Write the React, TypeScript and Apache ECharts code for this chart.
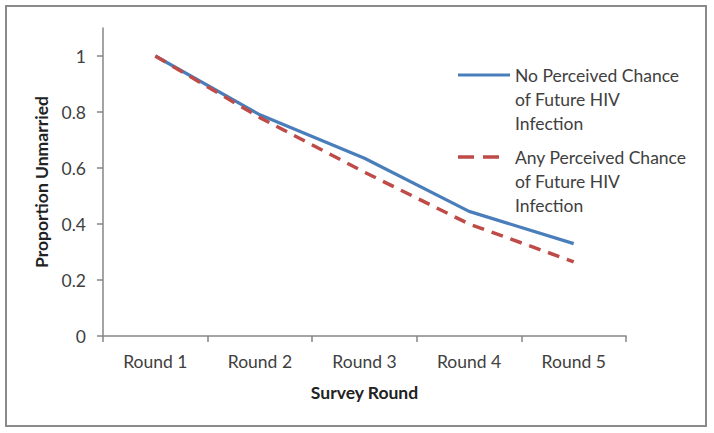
import React, { useEffect, useRef } from "react";
import * as echarts from "echarts";

const categories = ["Round 1", "Round 2", "Round 3", "Round 4", "Round 5"];
const noChance = [1.0, 0.79, 0.635, 0.445, 0.33];
const anyChance = [1.0, 0.78, 0.585, 0.4, 0.265];
const yTicks = [0, 0.2, 0.4, 0.6, 0.8, 1];
const seriesNames = [
  "No Perceived Chance of Future HIV Infection",
  "Any Perceived Chance of Future HIV Infection",
];
const legendText = [
  "No Perceived Chance\nof Future HIV\nInfection",
  "Any Perceived Chance\nof Future HIV\nInfection",
];

const BLUE = "#4A7EBB";
const RED = "#BE4B48";
const AXIS = "#868686";
const TEXT = "#404040";
const FONT = "Lato";
const FS = 17.5;

export default function App() {
  const ref = useRef<HTMLDivElement>(null);
  useEffect(() => {
    if (!ref.current) return;
    const chart = echarts.init(ref.current, null, { renderer: "svg" });
    chart.setOption({
      animation: false,
      backgroundColor: "#ffffff",
      textStyle: { fontFamily: FONT },
      grid: { left: 103, right: 88, top: 28, bottom: 97, containLabel: false },
      xAxis: {
        type: "category",
        data: categories,
        boundaryGap: true,
        name: "Survey Round",
        nameLocation: "middle",
        nameGap: 47,
        nameTextStyle: { fontFamily: FONT, fontSize: FS, fontWeight: "bold", color: "#222" },
        axisLine: { lineStyle: { color: AXIS, width: 1.5 } },
        axisTick: { show: true, length: 6, lineStyle: { color: AXIS, width: 1.5 } },
        axisLabel: { fontFamily: FONT, fontSize: FS, color: TEXT, margin: 16 },
        splitLine: { show: false },
      },
      yAxis: {
        type: "value",
        min: 0,
        max: 1.1,
        interval: 0.2,
        name: "Proportion Unmarried",
        nameLocation: "middle",
        nameGap: 51,
        nameRotate: 90,
        nameTextStyle: { fontFamily: FONT, fontSize: FS, fontWeight: "bold", color: "#222" },
        axisLine: { show: true, lineStyle: { color: AXIS, width: 1.5 } },
        axisTick: {
          show: true,
          length: 6,
          customValues: yTicks,
          lineStyle: { color: AXIS, width: 1.5 },
        },
        axisLabel: {
          fontFamily: FONT,
          fontSize: FS,
          color: TEXT,
          margin: 17,
          customValues: yTicks,
          formatter: (v: number) => String(Math.round(v * 10) / 10),
        },
        splitLine: { show: false },
      },
      series: [
        {
          name: seriesNames[0],
          type: "line",
          data: noChance,
          symbol: "none",
          lineStyle: { color: BLUE, width: 3.2 },
          itemStyle: { color: BLUE },
          z: 2,
        },
        {
          name: seriesNames[1],
          type: "line",
          data: anyChance,
          symbol: "none",
          lineStyle: { color: RED, width: 3.5, type: [12, 8] },
          itemStyle: { color: RED },
          z: 3,
        },
      ],
      graphic: [
        {
          type: "rect",
          shape: { x: 6, y: 6, width: 700, height: 420 },
          style: { fill: "none", stroke: "#8a8a8a", lineWidth: 2 },
          silent: true,
        },
        {
          type: "line",
          shape: { x1: 458, y1: 75, x2: 510, y2: 75 },
          style: { stroke: BLUE, lineWidth: 3.2 },
        },
        {
          type: "text",
          x: 515,
          y: 63,
          style: {
            text: legendText[0],
            font: `${FS}px ${FONT}`,
            fill: TEXT,
            lineHeight: 24,
            verticalAlign: "top",
          },
        },
        {
          type: "line",
          shape: { x1: 458, y1: 157, x2: 499, y2: 157 },
          style: { stroke: RED, lineWidth: 3.5, lineDash: [16, 9] },
        },
        {
          type: "text",
          x: 515,
          y: 145,
          style: {
            text: legendText[1],
            font: `${FS}px ${FONT}`,
            fill: TEXT,
            lineHeight: 24,
            verticalAlign: "top",
          },
        },
      ],
    });
    return () => chart.dispose();
  }, []);
  return (
    <div
      ref={ref}
      style={{ position: "absolute", left: 0, top: 0, width: 714, height: 433 }}
    />
  );
}
